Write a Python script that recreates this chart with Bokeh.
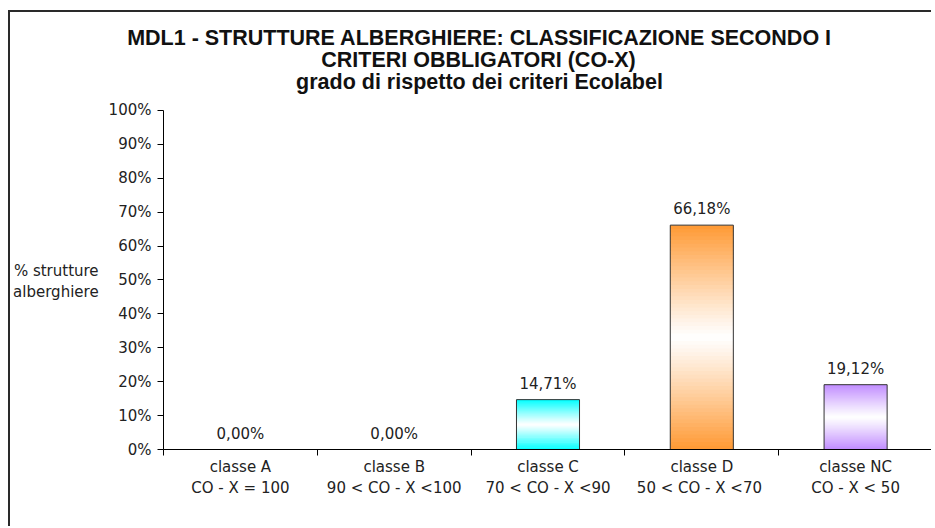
import numpy as np
from bokeh.plotting import figure
from bokeh.models import Range1d, FixedTicker, PrintfTickFormatter, Title
from bokeh.core.properties import value
from bokeh.embed import file_html
from bokeh.resources import INLINE

# ---- data ----
categories = ["classe A", "classe B", "classe C", "classe D", "classe NC"]
class_ranges = ["CO - X = 100", "90 < CO - X <100", "70 < CO - X <90",
                "50 <  CO - X <70", "CO - X < 50"]
values = [0.00, 0.00, 14.71, 66.18, 19.12]
bar_colors = ["#00FFFF", "#00FFFF", "#00FFFF", "#FF9933", "#C08CFF"]
y_ticks = [0, 10, 20, 30, 40, 50, 60, 70, 80, 90, 100]
title_lines = ["MDL1 - STRUTTURE ALBERGHIERE: CLASSIFICAZIONE SECONDO I",
               "CRITERI OBBLIGATORI (CO-X)",
               "grado di rispetto dei criteri Ecolabel"]
y_label_lines = ["% strutture", "alberghiere"]

FONT = "DejaVu Sans"
TFONT = "Liberation Sans"
TSIZE = 21.5

# Arial/Liberation Sans Bold advance widths (1/1000 em) for centring title lines
_W = dict(A=722, B=722, C=722, D=722, E=667, F=611, G=778, H=722, I=278, L=611,
          M=833, N=722, O=778, R=722, S=667, T=611, U=722, X=667, Z=611,
          a=556, b=611, c=556, d=611, e=556, g=611, i=278, l=278, n=611, o=611,
          p=611, r=389, s=556, t=333)
_W.update({" ": 278, "-": 333, ":": 333, "(": 333, ")": 333, "1": 556})
def text_w(s, fs):
    return sum(_W.get(ch, 600) for ch in s) / 1000 * fs

FRAME_LEFT = 163 - 10   # frame left, relative to canvas
CENTER_X = 479 - 10     # title centre, relative to canvas

# the plot area reaches a little above 100% (room below the title);
# the y axis itself is bounded to 0..100
p = figure(width=923, height=516, output_backend="svg", toolbar_location=None,
           x_range=Range1d(0, len(categories)), y_range=Range1d(0, 105.6),
           min_border_left=153, min_border_right=1, min_border_top=79,
           min_border_bottom=79, margin=(10, 0, 0, 8),
           styles={"border-top": "2px solid #2a2a2a", "border-left": "2px solid #2a2a2a"})
p.outline_line_color = None
p.grid.grid_line_color = None
p.background_fill_color = "white"
p.border_fill_color = "white"
p.title.text = ""

for line in reversed(title_lines):
    off = CENTER_X - text_w(line, TSIZE) / 2 - FRAME_LEFT
    p.add_layout(Title(text=line, align="left", offset=off, standoff=-4,
                       text_font=TFONT, text_font_size=f"{TSIZE}px",
                       text_font_style="bold", text_color="#111111"), "above")

centers = [i + 0.5 for i in range(len(categories))]
bar_w = 0.41

# gradient bars: thin slices from colour at both ends to white in the middle
N = 60
def hex2rgb(h):
    h = h.lstrip("#")
    return np.array([int(h[i:i + 2], 16) for i in (0, 2, 4)], dtype=float)

L, R, B, T, C = [], [], [], [], []
for cx, v, col in zip(centers, values, bar_colors):
    if v <= 0:
        continue
    base = hex2rgb(col)
    for k in range(N):
        f = (k + 0.5) / N
        t = abs(2 * f - 1) ** 1.1
        rgb = 255 * (1 - t) + base * t
        L.append(cx - bar_w / 2)
        R.append(cx + bar_w / 2)
        B.append(v * k / N)
        T.append(v * min(k + 1.8, N) / N)
        C.append("#%02x%02x%02x" % tuple(int(round(c)) for c in rgb))
p.quad(left=L, right=R, bottom=B, top=T, fill_color=C, line_color=None)
p.vbar(x=[c for c, v in zip(centers, values) if v > 0],
       top=[v for v in values if v > 0], width=bar_w,
       fill_alpha=0, line_color="#333333", line_width=1)

labels = [("%.2f" % v).replace(".", ",") + "%" for v in values]
p.text(x=centers, y=values, text=labels, text_align="center",
       text_baseline="middle", y_offset=-16,
       text_font=value(FONT), text_font_size=value("15px"), text_color="#222222")

# x axis
xa = p.below[0]
xa.ticker = FixedTicker(ticks=centers, minor_ticks=list(range(len(categories) + 1)))
xa.major_label_overrides = {c: f"{cat}\n{rng}" for c, cat, rng in
                            zip(centers, categories, class_ranges)}
xa.major_tick_line_color = None
xa.major_tick_out = 0
xa.major_tick_in = 0
xa.minor_tick_out = 6
xa.minor_tick_in = 0
xa.minor_tick_line_color = "black"
xa.axis_line_color = "black"
xa.major_label_standoff = 2
xa.major_label_text_font = FONT
xa.major_label_text_font_size = "15px"
xa.major_label_text_color = "#222222"
xa.major_label_text_line_height = 1.2

# y axis
ya = p.yaxis[0]
ya.bounds = (y_ticks[0], y_ticks[-1])
ya.ticker = FixedTicker(ticks=y_ticks, minor_ticks=[])
ya.formatter = PrintfTickFormatter(format="%d%%")
ya.major_tick_out = 6
ya.major_tick_in = 0
ya.minor_tick_line_color = None
ya.axis_line_color = "black"
ya.major_label_standoff = 6
ya.major_label_text_font = FONT
ya.major_label_text_font_size = "15px"
ya.major_label_text_color = "#222222"
# leading empty line lowers the centred two-line label to the 50% level
ya.axis_label = "\n" + "\n".join(y_label_lines)
ya.axis_label_orientation = "horizontal"
ya.axis_label_standoff = 7
ya.axis_label_text_font = FONT
ya.axis_label_text_font_size = "15px"
ya.axis_label_text_font_style = "normal"
ya.axis_label_text_color = "#222222"
ya.axis_label_text_align = "center"
ya.axis_label_text_line_height = 1.2

open("out.html", "w").write(file_html(p, INLINE))
